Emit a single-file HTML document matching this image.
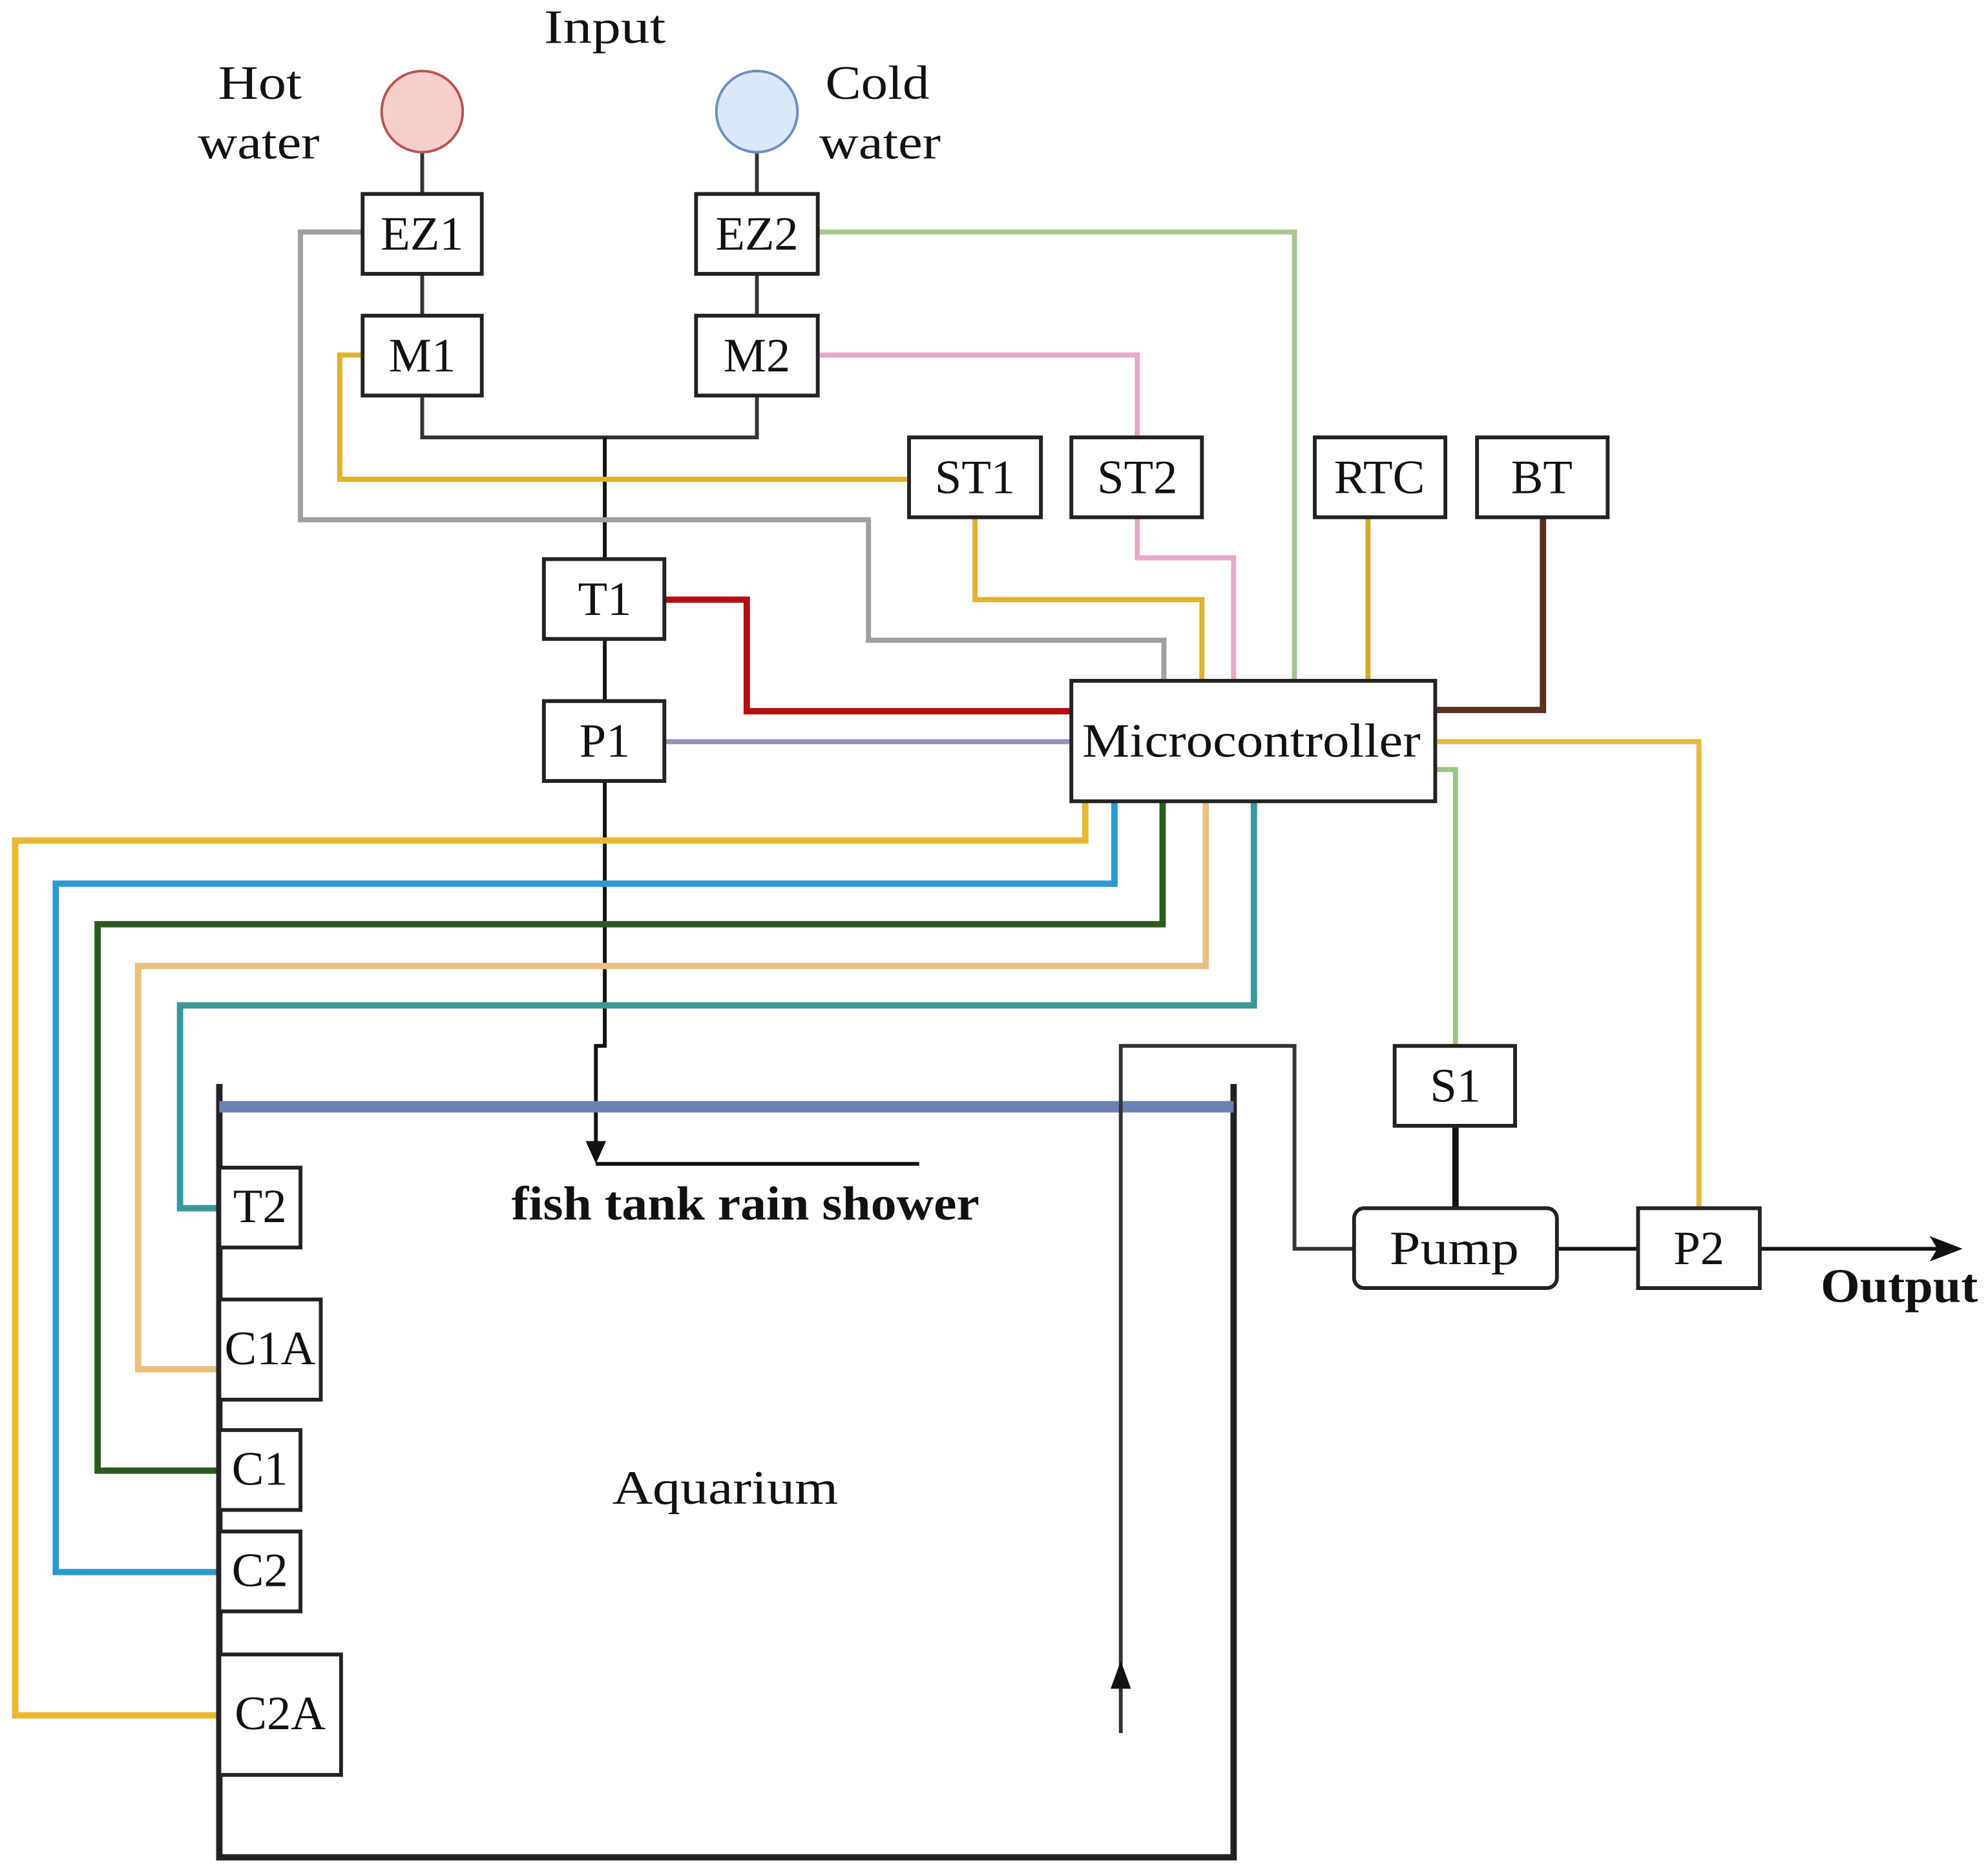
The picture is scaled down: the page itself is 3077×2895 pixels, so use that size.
<!DOCTYPE html>
<html><head><meta charset="utf-8"><style>html,body{margin:0;padding:0;background:#fff}svg{display:block}</style></head>
<body>
<svg width="3077" height="2895" viewBox="0 0 1568 1475" preserveAspectRatio="none" xmlns="http://www.w3.org/2000/svg" font-family="Liberation Serif, serif">
<g fill="none" stroke-linejoin="miter">
<path d="M333 120V153M333 216V249M333 312V345H597V312M597 216V249M597 120V153" stroke="#333" stroke-width="3"/>
<path d="M477 345V441M477 504V553M477 616V825H470V905" stroke="#111" stroke-width="3"/>
<path d="M470 918H725" stroke="#111" stroke-width="3"/>
<path d="M286 183H237V410H685V505H918V537" stroke="#a0a0a0" stroke-width="4"/>
<path d="M286 280H268V378H717" stroke="#e0b030" stroke-width="4"/>
<path d="M769 408V473H948V537" stroke="#e0b030" stroke-width="4"/>
<path d="M645 280H897V345M897 408V440H973V537" stroke="#e6a8c8" stroke-width="4"/>
<path d="M645 183H1021V537" stroke="#a4c890" stroke-width="4"/>
<path d="M1079 408V537" stroke="#d4a828" stroke-width="4"/>
<path d="M1217 408V560H1132" stroke="#5a3020" stroke-width="5"/>
<path d="M524 473H589V561H845" stroke="#b21010" stroke-width="5"/>
<path d="M524 585H845" stroke="#a090b8" stroke-width="4"/>
<path d="M1132 585H1340V953" stroke="#e8b840" stroke-width="4"/>
<path d="M1132 607H1148V825" stroke="#9cc484" stroke-width="4"/>
<path d="M856 632V663H12V1353H173" stroke="#e8b830" stroke-width="5"/>
<path d="M879 632V697H44V1240H173" stroke="#2a9ad0" stroke-width="5"/>
<path d="M917 632V729H77V1160H173" stroke="#2a5a20" stroke-width="5"/>
<path d="M951 632V762H109V1080H173" stroke="#e8c080" stroke-width="5"/>
<path d="M989 632V793H142V953H173" stroke="#3a9898" stroke-width="5"/>
<path d="M173 855V1465H973V855" stroke="#222" stroke-width="5"/>
<path d="M173 873H973" stroke="#6c82b4" stroke-width="9"/>
<path d="M1068 985H1021V825H884V1367" stroke="#333" stroke-width="3"/>
<path d="M1148 888V953" stroke="#111" stroke-width="5"/>
<path d="M1228 985H1292M1388 985H1530" stroke="#111" stroke-width="3"/>
</g>
<g fill="#111">
<path d="M462 900L478 900L470 918Z"/>
<path d="M876 1332L892 1332L884 1310Z"/>
<path d="M1548 985L1522 975L1528 985L1522 995Z"/>
</g>
<circle cx="333" cy="88" r="32" fill="#f8cecc" stroke="#b85450" stroke-width="2"/>
<circle cx="597" cy="88" r="32" fill="#dae8fc" stroke="#6c8ebf" stroke-width="2"/>
<g fill="#fff" stroke="#222" stroke-width="3">
<rect x="286" y="153" width="94" height="63"/><rect x="549" y="153" width="96" height="63"/>
<rect x="286" y="249" width="94" height="63"/><rect x="549" y="249" width="96" height="63"/>
<rect x="717" y="345" width="104" height="63"/><rect x="845" y="345" width="103" height="63"/>
<rect x="1037" y="345" width="103" height="63"/><rect x="1165" y="345" width="103" height="63"/>
<rect x="429" y="441" width="95" height="63"/><rect x="429" y="553" width="95" height="63"/>
<rect x="845" y="537" width="287" height="95"/>
<rect x="1100" y="825" width="95" height="63"/>
<rect x="1068" y="953" width="160" height="63" rx="8"/>
<rect x="1292" y="953" width="96" height="63"/>
<rect x="173" y="921" width="64" height="63"/><rect x="173" y="1025" width="80" height="79"/>
<rect x="173" y="1128" width="64" height="63"/><rect x="173" y="1208" width="64" height="63"/>
<rect x="173" y="1305" width="96" height="95"/>
</g>
<g font-size="38" fill="#111" text-anchor="middle" lengthAdjust="spacingAndGlyphs">
<text x="477" y="34" textLength="96" lengthAdjust="spacingAndGlyphs">Input</text>
<text x="205" y="78" textLength="66" lengthAdjust="spacingAndGlyphs">Hot</text><text x="204" y="125" textLength="96" lengthAdjust="spacingAndGlyphs">water</text>
<text x="692" y="78" textLength="82" lengthAdjust="spacingAndGlyphs">Cold</text><text x="694" y="125" textLength="96" lengthAdjust="spacingAndGlyphs">water</text>
<text x="333" y="197">EZ1</text><text x="597" y="197">EZ2</text>
<text x="333" y="293">M1</text><text x="597" y="293">M2</text>
<text x="769" y="389">ST1</text><text x="897" y="389">ST2</text>
<text x="1088" y="389">RTC</text><text x="1216" y="389">BT</text>
<text x="477" y="485">T1</text><text x="477" y="597">P1</text>
<text x="987" y="597" textLength="267" lengthAdjust="spacingAndGlyphs">Microcontroller</text>
<text x="1148" y="869">S1</text><text x="1147" y="997" textLength="102" lengthAdjust="spacingAndGlyphs">Pump</text><text x="1340" y="997">P2</text>
<text x="205" y="964">T2</text><text x="213" y="1076">C1A</text>
<text x="205" y="1171">C1</text><text x="205" y="1251">C2</text><text x="221" y="1364">C2A</text>
<text x="572" y="1186" textLength="178" lengthAdjust="spacingAndGlyphs">Aquarium</text>
<text x="1498" y="1027" font-weight="bold" textLength="124" lengthAdjust="spacingAndGlyphs">Output</text>
<text x="588" y="962" font-weight="bold" textLength="369" lengthAdjust="spacingAndGlyphs">fish tank rain shower</text>
</g>
</svg>
</body></html>
